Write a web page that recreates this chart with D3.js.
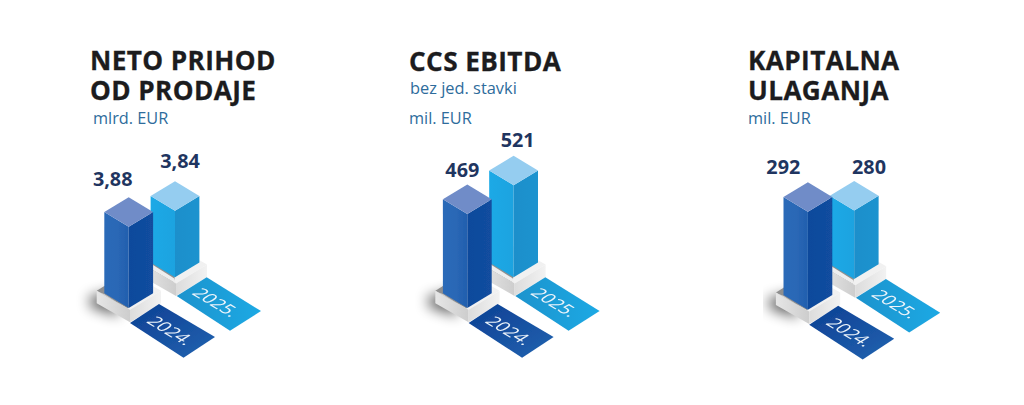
<!DOCTYPE html>
<html><head><meta charset="utf-8">
<style>html,body{margin:0;padding:0;background:#fff}svg{display:block}text{font-family:"Open Sans","Noto Sans",sans-serif}</style>
<script src="https://cdn.jsdelivr.net/npm/d3@7"></script></head>
<body><svg id="c" width="1024" height="405"></svg>
<script>
// Data
const years = ["2024.", "2025."];
const titles = [["NETO PRIHOD","OD PRODAJE"],["CCS EBITDA"],["KAPITALNA","ULAGANJA"]];
const notes = [null, "bez jed. stavki", null];
const units = ["mlrd. EUR","mil. EUR","mil. EUR"];
const valueLabels = [["3,88","3,84"],["469","521"],["292","280"]];
// The infographic is not to scale: drawn bar heights as read from it, tallest bar = 100
const drawnLevels = [[83,68],[96,94],[100,70]];

// Layout
const H = d3.scaleLinear().domain([0,100]).range([0,98]);
const panelX = d3.scaleOrdinal().domain([0,1,2]).range([0,338.6,679.2]);
const panelY = d3.scaleOrdinal().domain([0,1,2]).range([0,0,1.7]);
const titleX=[90,409,748], titleY=[69.5,71,69.5], unitX=[93,409,748], unitY=[124,123.5,123.5];
const labelPos=[[[112.7,185.7],[180,168]],[[462.3,177.3],[517.7,146.7]],[[783.3,174],[869,174]]];
const barFoot=[[128.7,308],[175,277.3]];
const plinthFoot=[[130,322.3],[176,296]];
const plate=[[[130,323],[159,304],[215,337],[183.5,357.7]],[[176.7,296],[206.7,277.3],[261,311],[230,330.7]]];
const W=24.4,D=14.7;
const faces=[
 {l:"url(#bl0)",r:"url(#br0)",t:"#6f8cc8",p:"url(#pl0)"},
 {l:"url(#bl1)",r:"url(#br1)",t:"#95cdf0",p:"url(#pl1)"}];

const svg=d3.select("#c");
const defs=svg.append("defs");
function grad(id,x2,y2,stops){const g=defs.append("linearGradient").attr("id",id).attr("x1",0).attr("y1",0).attr("x2",x2).attr("y2",y2);
 stops.forEach((c,i)=>g.append("stop").attr("offset",i/(stops.length-1)).attr("stop-color",c));}
grad("bl0",1,0,["#2b6ab8","#2b68b6","#215fae"]);
grad("br0",1,0,["#0f4a9c","#124d9f"]);
grad("bl1",1,0,["#1ca9e6","#1aa3e0"]);
grad("br1",1,0,["#1a8fcb","#1c93cf"]);
grad("pl0",1,1,["#0c3f93","#2263b0"]);
grad("pl1",1,0,["#1f93cd","#1fa9e4"]);
grad("plL",1,0,["#e6e6e6","#cdcdcd"]);
grad("plR",1,0,["#dcdcdc","#f2f2f2"]);
const f=defs.append("filter").attr("id","blur").attr("x","-150%").attr("y","-150%").attr("width","400%").attr("height","400%");
f.append("feGaussianBlur").attr("stdDeviation",6.5);
const soft=defs.append("filter").attr("id","soft").attr("x","-30%").attr("y","-30%").attr("width","160%").attr("height","160%");
soft.append("feGaussianBlur").attr("stdDeviation",0.5);

const poly=pts=>d3.line()(pts)+"Z";

titles.forEach((t,p)=>{
 const g=svg.append("g");
 t.forEach((s,i)=>g.append("text").attr("x",titleX[p]).attr("y",titleY[p]+i*30)
   .attr("font-size",26.2).attr("font-weight",700).attr("letter-spacing",0.4).attr("stroke","#1c1c1e").attr("stroke-width",0.3).attr("fill","#1c1c1e").text(s));
 if(notes[p]) g.append("text").attr("x",titleX[p]+1).attr("y",94).attr("font-size",16.4).attr("fill","#2e6c9c").text(notes[p]);
 g.append("text").attr("x",unitX[p]).attr("y",unitY[p]).attr("font-size",16.3).attr("fill","#2e6c9c").text(units[p]);

 const m=svg.append("g").attr("transform",`translate(${panelX(p)},${panelY(p)})`).attr("filter","url(#soft)");
 [1,0].forEach(i=>{
  const [cx,by]=barFoot[i], h=H(drawnLevels[p][i]), [px,py]=plinthFoot[i], c=faces[i];
  const ph=12.5;
  const L=[px-33.3,py-19-ph],R=[px+31,py-19-ph],F=[px,py-ph],B=[px-2.3,py-38-ph];
  if(i===0) m.append("path").attr("d",poly([[L[0]-8,L[1]+6],[L[0]+20,L[1]],[L[0]+22,py-6],[L[0]-6,py-15]])).attr("fill","#000").attr("opacity",.6).attr("filter","url(#blur)");
  m.append("path").attr("d",poly([L,B,R,F])).attr("fill","#f1f1f1");
  m.append("path").attr("d",poly([L,[L[0]+8,L[1]-5],[cx,by-3],[F[0]-2,F[1]-1]])).attr("fill","#8f8f8f");
  m.append("path").attr("d",poly([[L[0]+3,L[1]+1.5],[cx-W,by-D+1],[cx-1,by+1],[F[0],F[1]]])).attr("fill","#eeeeee");
  m.append("path").attr("d",poly([L,F,[px,py],[L[0],py-19]])).attr("fill","url(#plL)");
  m.append("path").attr("d",poly([F,R,[R[0],py-19],[px,py]])).attr("fill","url(#plR)");
  // bar
  m.append("path").attr("d",poly([[cx-W,by-h-D],[cx,by-h],[cx,by],[cx-W,by-D]])).attr("fill",c.l);
  m.append("path").attr("d",poly([[cx,by-h],[cx+W,by-h-D],[cx+W,by-D],[cx,by]])).attr("fill",c.r);
  m.append("path").attr("d",poly([[cx,by-h],[cx-W,by-h-D],[cx,by-h-2*D],[cx+W,by-h-D]])).attr("fill",c.t);
  // year plate
  m.append("path").attr("d",poly(plate[i])).attr("fill",c.p);
  const ctr=d3.polygonCentroid(plate[i]);
  m.append("text").attr("transform",`matrix(.866,.52,-.866,.52,${ctr[0]-(i?2.5:1.5)},${ctr[1]-(i?1.5:0)})`)
   .attr("text-anchor","middle").attr("dy","0.35em").attr("font-size",18).attr("fill","#eef5fb").text(years[i]);
 });
 valueLabels[p].forEach((v,i)=>g.append("text").attr("x",labelPos[p][i][0]).attr("y",labelPos[p][i][1])
   .attr("text-anchor","middle").attr("font-size",19.8).attr("font-weight",700).attr("fill","#1f3560").text(v));
 g.raise();
});
</script></body></html>
